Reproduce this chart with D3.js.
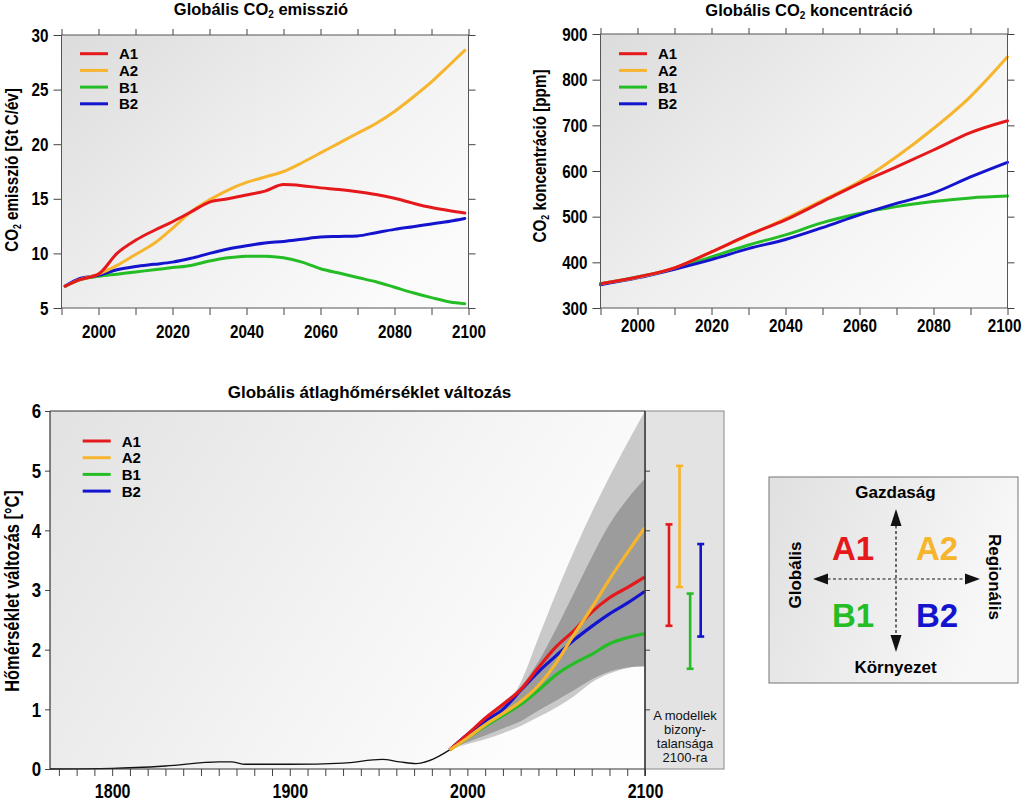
<!DOCTYPE html>
<html><head><meta charset="utf-8">
<script src="https://cdn.jsdelivr.net/npm/d3@7"></script>
<style>body{margin:0;background:#fff}</style>
</head><body>
<svg id="c" width="1024" height="801"></svg>
<script>
// ---------------- data ----------------
const series = ["A1", "A2", "B1", "B2"];
const seriesColors = ["#e5191c", "#f6b52c", "#25bd25", "#1414cf"];

const emisYears = [1991,1995,2000,2005,2010,2015,2020,2025,2030,2035,2040,2045,2050,2055,2060,2065,2070,2075,2080,2085,2090,2095,2099];
const emisA1 = [7.0,7.6,8.1,10.0,11.2,12.1,12.9,13.8,14.7,15.0,15.35,15.7,16.3,16.2,16.0,15.85,15.65,15.4,15.05,14.6,14.2,13.9,13.7];
const emisA2 = [7.0,7.6,8.1,8.9,9.9,10.9,12.3,13.8,14.9,15.8,16.5,17.0,17.5,18.3,19.2,20.1,21.0,21.9,23.0,24.3,25.7,27.3,28.6];
const emisB1 = [7.0,7.6,7.9,8.1,8.3,8.5,8.7,8.9,9.3,9.6,9.75,9.75,9.6,9.2,8.6,8.2,7.8,7.4,6.9,6.4,5.95,5.55,5.4];
const emisB2 = [7.0,7.7,8.0,8.5,8.8,9.0,9.2,9.55,10.0,10.4,10.7,10.95,11.1,11.3,11.5,11.55,11.6,11.9,12.2,12.45,12.7,12.95,13.2];

const concYears = [1990,2000,2010,2020,2030,2040,2050,2060,2070,2080,2090,2100];
const concA1 = [353,368,388,423,460,493,533,573,609,646,684,710];
const concA2 = [353,367,388,423,459,496,536,577,631,693,763,850];
const concB1 = [353,368,386,412,438,460,487,507,522,533,541,545];
const concB2 = [351,366,385,406,430,450,476,504,529,552,587,619];

const histYears = [1765,1800,1830,1860,1867,1875,1900,1930,1952,1962,1971,1981,1990];
const histTemp  = [0,0.01,0.05,0.12,0.12,0.08,0.08,0.1,0.16,0.12,0.09,0.17,0.32];

const tempYears = [1990,2000,2010,2020,2030,2040,2050,2060,2070,2080,2090,2100];
const tempA1 = [0.32,0.58,0.85,1.08,1.33,1.7,2.05,2.32,2.63,2.87,3.04,3.22];
const tempA2 = [0.32,0.52,0.74,0.93,1.13,1.4,1.78,2.25,2.7,3.18,3.62,4.05];
const tempB1 = [0.32,0.52,0.72,0.9,1.08,1.32,1.58,1.77,1.92,2.1,2.2,2.27];
const tempB2 = [0.32,0.58,0.8,1.0,1.32,1.63,1.9,2.16,2.39,2.6,2.78,2.98];

const bandOuterHi = [0.32,0.45,0.65,0.98,1.45,2.2,2.95,3.65,4.3,4.9,5.46,6.0];
const bandOuterLo = [0.32,0.42,0.5,0.6,0.72,0.87,1.03,1.22,1.45,1.6,1.69,1.72];
const bandInnerHi = [0.32,0.6,0.88,1.12,1.38,1.8,2.35,2.95,3.55,4.1,4.52,4.87];
const bandInnerLo = [0.32,0.45,0.56,0.68,0.8,0.98,1.15,1.32,1.5,1.63,1.7,1.72];

const range2100Lo = [2.4, 3.05, 1.68, 2.22];
const range2100Hi = [4.1, 5.08, 2.94, 3.77];

const emisTicksX = [1990,2000,2010,2020,2030,2040,2050,2060,2070,2080,2090,2100];
const emisLabelsX = [2000,2020,2040,2060,2080,2100];
const emisTicksY = [5,10,15,20,25,30];
const concTicksY = [300,400,500,600,700,800,900];
const tempTicksX = [1770,1780,1790,1800,1810,1820,1830,1840,1850,1860,1870,1880,1890,1900,1910,1920,1930,1940,1950,1960,1970,1980,1990,2000,2010,2020,2030,2040,2050,2060,2070,2080,2090,2100];
const tempLabelsX = [1800,1900,2000,2100];
const tempTicksY = [0,1,2,3,4,5,6];

const quadLabels = ["A1","A2","B1","B2"];
const panelText = ["A modellek","bizony-","talansága","2100-ra"];

// ---------------- helpers ----------------
const SANS = "'Liberation Sans',Arial,sans-serif";
const NARROW_F = 0.8;
const svg = d3.select("#c");
const defs = svg.append("defs");

function narrow(sel, f) {
  sel.each(function () {
    const w = this.getComputedTextLength();
    if (w > 0) d3.select(this).attr("textLength", w * (f || NARROW_F)).attr("lengthAdjust", "spacingAndGlyphs");
  });
}

function gradient(id, x2, y2, stops) {
  const g = defs.append("linearGradient").attr("id", id)
    .attr("x1", 0).attr("y1", 0).attr("x2", x2).attr("y2", y2);
  stops.forEach(s => g.append("stop").attr("offset", s[0]).attr("stop-color", s[1]));
}
gradient("gTop", 1, 0.7, [[0, "#dcdcdc"], [0.55, "#f0f0f0"], [1, "#fbfbfb"]]);
gradient("gTemp", 1, 0.4, [[0, "#e2e2e2"], [0.6, "#f3f3f3"], [1, "#fdfdfd"]]);
gradient("gBox", 1, 0.3, [[0, "#e0e0e0"], [1, "#f8f8f8"]]);

function richText(sel, parts, subSize) {
  let shift = 0;
  parts.forEach(p => {
    const ts = sel.append("tspan").text(p.t);
    if (p.sub) { ts.attr("font-size", subSize).attr("dy", 3); shift = -3; }
    else if (shift) { ts.attr("dy", shift); shift = 0; }
  });
  return sel;
}

function styleAxis(g, size, hideLabels) {
  g.select(".domain").remove();
  g.selectAll(".tick line").attr("stroke", "#444");
  if (hideLabels) { g.selectAll(".tick text").remove(); return; }
  g.selectAll(".tick text").attr("font-family", SANS).attr("font-weight", "bold")
    .attr("font-size", size).attr("fill", "#000");
  g.selectAll(".tick text").filter(function () { return this.textContent === ""; }).remove();
  narrow(g.selectAll(".tick text"));
}

function legend(x0, y0, dy) {
  series.forEach((s, i) => {
    const y = y0 + i * dy;
    svg.append("line").attr("x1", x0).attr("x2", x0 + 28).attr("y1", y).attr("y2", y)
      .attr("stroke", seriesColors[i]).attr("stroke-width", 3);
    svg.append("text").attr("x", x0 + 39).attr("y", y + 5.5).text(s)
      .attr("font-family", SANS).attr("font-weight", "bold").attr("font-size", 15);
  });
}

// ---------------- top charts ----------------
function topChart(o) {
  const x = d3.scaleLinear().domain([1990, 2100]).range([o.left, o.right]);
  const y = d3.scaleLinear().domain(o.yDomain).range([o.bottom, o.top]);
  svg.append("rect").attr("x", o.left).attr("y", o.top).attr("width", o.right - o.left)
    .attr("height", o.bottom - o.top).attr("fill", "url(#gTop)");
  const line = d3.line().x(d => x(d[0])).y(d => y(d[1])).curve(d3.curveMonotoneX);
  [2, 3, 1, 0].forEach(i => {
    svg.append("path").attr("d", line(o.years.map((yr, k) => [yr, o.data[i][k]])))
      .attr("fill", "none").attr("stroke", seriesColors[i]).attr("stroke-width", 3)
      .attr("stroke-linejoin", "round").attr("stroke-linecap", "round");
  });
  const xb = svg.append("g").attr("transform", `translate(0,${o.bottom})`)
    .call(d3.axisBottom(x).tickValues(emisTicksX).tickSize(7).tickPadding(o.xPad)
      .tickFormat(d => emisLabelsX.includes(d) ? d : ""));
  styleAxis(xb, 19);
  if (o.endLabel) {
    xb.selectAll(".tick").filter(d => d === 2100).select("text")
      .attr("text-anchor", "end").attr("x", 1021 - o.right);
  }
  const xt = svg.append("g").attr("transform", `translate(0,${o.top})`)
    .call(d3.axisTop(x).tickValues(emisTicksX).tickSize(6));
  styleAxis(xt, 19, true);
  const yl = svg.append("g").attr("transform", `translate(${o.left},0)`)
    .call(d3.axisLeft(y).tickValues(o.yTicks).tickSize(8).tickPadding(5).tickFormat(d3.format("d")));
  styleAxis(yl, 19);
  const yr = svg.append("g").attr("transform", `translate(${o.right},0)`)
    .call(d3.axisRight(y).tickValues(o.yTicks).tickSize(7));
  styleAxis(yr, 19, true);
  svg.append("rect").attr("x", o.left).attr("y", o.top).attr("width", o.right - o.left)
    .attr("height", o.bottom - o.top).attr("fill", "none").attr("stroke", "#555").attr("stroke-width", 1);
  legend(o.left + 18.5, 53.7, 16.7);
  richText(svg.append("text").attr("x", o.titleX).attr("y", o.titleY).attr("text-anchor", "middle")
    .attr("font-family", SANS).attr("font-weight", "bold").attr("font-size", 16.5), o.title, 10);
  const yt = richText(svg.append("text").attr("transform", `translate(${o.ytX},${o.ytY}) rotate(-90)`)
    .attr("text-anchor", "middle").attr("font-family", SANS).attr("font-weight", "bold")
    .attr("font-size", 19), o.ytitle, 11);
  narrow(yt);
}

topChart({
  left: 61.5, right: 468.5, top: 35, bottom: 308, yDomain: [5, 30], yTicks: emisTicksY,
  years: emisYears, data: [emisA1, emisA2, emisB1, emisB2], xPad: 10,
  title: [{t: "Globális CO"}, {t: "2", sub: true}, {t: " emisszió"}], titleX: 261, titleY: 15,
  ytitle: [{t: "CO"}, {t: "2", sub: true}, {t: " emisszió [Gt C/év]"}], ytX: 18, ytY: 170
});
topChart({
  left: 600.5, right: 1007.5, top: 34, bottom: 308, yDomain: [300, 900], yTicks: concTicksY,
  years: concYears, data: [concA1, concA2, concB1, concB2], xPad: 4, endLabel: true,
  title: [{t: "Globális CO"}, {t: "2", sub: true}, {t: " koncentráció"}], titleX: 809, titleY: 15.5,
  ytitle: [{t: "CO"}, {t: "2", sub: true}, {t: " koncentráció [ppm]"}], ytX: 546, ytY: 156
});

// ---------------- temperature chart ----------------
const T = {left: 50, right: 645, top: 411, bottom: 769, panelRight: 724};
const tx = d3.scaleLinear().domain([1765, 2100]).range([T.left, T.right]);
const ty = d3.scaleLinear().domain([0, 6]).range([T.bottom, T.top]);

svg.append("rect").attr("x", T.left).attr("y", T.top).attr("width", T.right - T.left)
  .attr("height", T.bottom - T.top).attr("fill", "url(#gTemp)");
svg.append("rect").attr("x", T.right).attr("y", T.top).attr("width", T.panelRight - T.right)
  .attr("height", T.bottom - T.top).attr("fill", "#e3e3e3").attr("stroke", "#888").attr("stroke-width", 1);

const area = (lo, hi) => d3.area().x((d, k) => tx(tempYears[k]))
  .y0((d, k) => ty(lo[k])).y1((d, k) => ty(hi[k])).curve(d3.curveMonotoneX)(tempYears);
svg.append("path").attr("d", area(bandOuterLo, bandOuterHi)).attr("fill", "#c9c9c9");
svg.append("path").attr("d", area(bandInnerLo, bandInnerHi)).attr("fill", "#9c9c9c");

const tline = d3.line().x(d => tx(d[0])).y(d => ty(d[1])).curve(d3.curveMonotoneX);
svg.append("path").attr("d", tline(histYears.map((yr, k) => [yr, histTemp[k]])))
  .attr("fill", "none").attr("stroke", "#111").attr("stroke-width", 1.3);
const tempData = [tempA1, tempA2, tempB1, tempB2];
[2, 3, 0, 1].forEach(i => {
  svg.append("path").attr("d", tline(tempYears.map((yr, k) => [yr, tempData[i][k]])))
    .attr("fill", "none").attr("stroke", seriesColors[i]).attr("stroke-width", 3.2)
    .attr("stroke-linejoin", "round");
});

// axes
const txb = svg.append("g").attr("transform", `translate(0,${T.bottom})`)
  .call(d3.axisBottom(tx).tickValues(tempTicksX).tickSize(7).tickPadding(8)
    .tickFormat(d => tempLabelsX.includes(d) ? d : ""));
styleAxis(txb, 20);
const tyl = svg.append("g").attr("transform", `translate(${T.left},0)`)
  .call(d3.axisLeft(ty).tickValues(tempTicksY).tickSize(5).tickPadding(4).tickFormat(d3.format("d")));
styleAxis(tyl, 21);
const tyr = svg.append("g").attr("transform", `translate(${T.right},0)`)
  .call(d3.axisRight(ty).tickValues([1, 2, 3, 4, 5]).tickSize(5));
styleAxis(tyr, 20, true);
svg.append("line").attr("x1", T.left).attr("x2", T.right).attr("y1", T.top).attr("y2", T.top)
  .attr("stroke", "#333").attr("stroke-width", 1.2);
svg.append("line").attr("x1", T.left).attr("x2", T.left).attr("y1", T.top).attr("y2", T.bottom)
  .attr("stroke", "#333").attr("stroke-width", 1.2);
svg.append("line").attr("x1", T.left).attr("x2", T.right).attr("y1", T.bottom).attr("y2", T.bottom)
  .attr("stroke", "#333").attr("stroke-width", 1.2);
svg.append("line").attr("x1", T.right).attr("x2", T.right).attr("y1", T.top).attr("y2", T.bottom + 7)
  .attr("stroke", "#333").attr("stroke-width", 1.5);

// 2100 uncertainty bars
const px = d3.scalePoint().domain(series).range([669, 700.7]);
series.forEach((s, i) => {
  const g = svg.append("g").attr("stroke", seriesColors[i]).attr("stroke-width", 2.6);
  const xx = px(s);
  g.append("line").attr("x1", xx).attr("x2", xx).attr("y1", ty(range2100Lo[i])).attr("y2", ty(range2100Hi[i]));
  [range2100Lo[i], range2100Hi[i]].forEach(v =>
    g.append("line").attr("x1", xx - 3.5).attr("x2", xx + 3.5).attr("y1", ty(v)).attr("y2", ty(v)));
});
panelText.forEach((t, i) => {
  svg.append("text").attr("x", 685).attr("y", 720 + i * 14).attr("text-anchor", "middle")
    .attr("font-family", SANS).attr("font-size", 13).attr("fill", "#111").text(t);
});

legend(T.left + 32.7, 441, 16.7);
svg.append("text").attr("x", 369.5).attr("y", 398).attr("text-anchor", "middle")
  .attr("font-family", SANS).attr("font-weight", "bold").attr("font-size", 17)
  .text("Globális átlaghőmérséklet változás");
const tyt = svg.append("text").attr("transform", "translate(19,591) rotate(-90)").attr("text-anchor", "middle")
  .attr("font-family", SANS).attr("font-weight", "bold").attr("font-size", 20.5)
  .text("Hőmérséklet változás [°C]");
narrow(tyt);

// ---------------- scenario box ----------------
const B = {x: 769, y: 477, w: 249, h: 206, cx: 896, cy: 579};
svg.append("rect").attr("x", B.x).attr("y", B.y).attr("width", B.w).attr("height", B.h)
  .attr("fill", "url(#gBox)").attr("stroke", "#8a8a8a").attr("stroke-width", 1.2);
const arr = svg.append("g");
arr.append("line").attr("x1", 822).attr("x2", 971).attr("y1", B.cy).attr("y2", B.cy)
  .attr("stroke", "#111").attr("stroke-width", 1.2).attr("stroke-dasharray", "3,2.5");
arr.append("line").attr("x1", B.cx).attr("x2", B.cx).attr("y1", 520).attr("y2", 641)
  .attr("stroke", "#111").attr("stroke-width", 1.2).attr("stroke-dasharray", "3,2.5");
const tri = [
  [[813, B.cy], [828, B.cy - 5.5], [828, B.cy + 5.5]],
  [[980, B.cy], [965, B.cy - 5.5], [965, B.cy + 5.5]],
  [[B.cx, 509], [B.cx - 5.5, 526], [B.cx + 5.5, 526]],
  [[B.cx, 652], [B.cx - 5.5, 635], [B.cx + 5.5, 635]]
];
tri.forEach(p => arr.append("path").attr("d", "M" + p.join("L") + "Z").attr("fill", "#111"));
const qx = [853, 937, 853, 937], qy = [560, 560, 627, 627];
quadLabels.forEach((q, i) => {
  svg.append("text").attr("x", qx[i]).attr("y", qy[i]).attr("text-anchor", "middle")
    .attr("font-family", SANS).attr("font-weight", "bold").attr("font-size", 33)
    .attr("fill", seriesColors[i]).text(q);
});
const boxText = (t, x, y, rot) => svg.append("text")
  .attr("transform", `translate(${x},${y})` + (rot ? ` rotate(${rot})` : ""))
  .attr("text-anchor", "middle").attr("font-family", SANS).attr("font-weight", "bold")
  .attr("font-size", 17).text(t);
boxText("Gazdaság", 895.5, 498);
boxText("Környezet", 895.5, 673);
boxText("Globális", 801, 575, -90);
boxText("Regionális", 989, 577, 90);
</script>
</body></html>
